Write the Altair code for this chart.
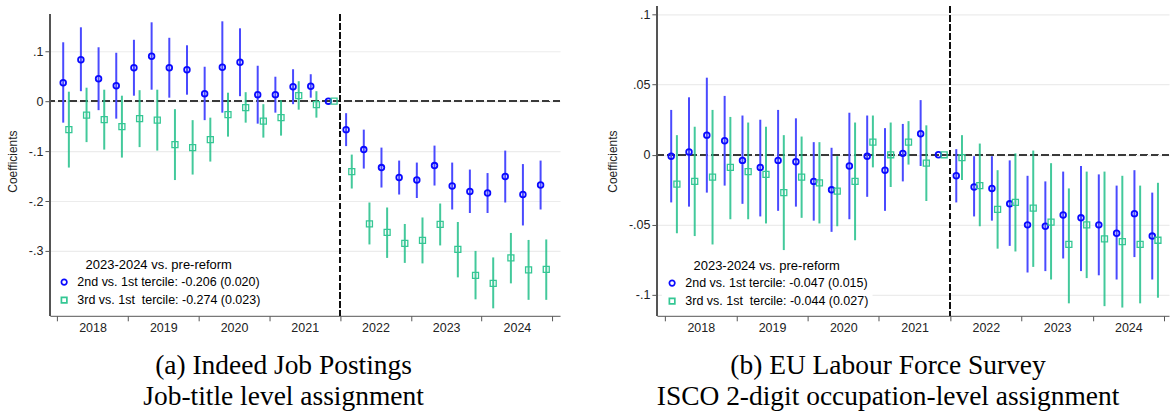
import altair as alt
import pandas as pd

# Quarterly event-study periods, 2018q1 .. 2024q4 (2021q4 is the omitted reference quarter)
years = [y for y in range(2018, 2025) for _ in range(4)]
quarters = [q for _ in range(2018, 2025) for q in range(1, 5)]

# (a) Indeed job postings, job-title level assignment
a_t2_est = [0.037, 0.083, 0.045, 0.031, 0.067, 0.090, 0.067, 0.063, 0.015, 0.068, 0.078, 0.013, 0.013, 0.029, 0.030, 0.0,
            -0.057, -0.097, -0.133, -0.153, -0.158, -0.129, -0.170, -0.181, -0.184, -0.151, -0.187, -0.168]
a_t2_lo = [-0.043, 0.020, -0.018, -0.035, 0.011, 0.023, 0.007, 0.013, -0.038, -0.023, 0.010, -0.045, -0.023, -0.006, 0.007, 0.0,
           -0.090, -0.135, -0.173, -0.187, -0.194, -0.169, -0.217, -0.224, -0.224, -0.203, -0.249, -0.217]
a_t2_hi = [0.118, 0.148, 0.108, 0.097, 0.123, 0.158, 0.127, 0.112, 0.069, 0.160, 0.146, 0.071, 0.049, 0.064, 0.054, 0.0,
           -0.024, -0.057, -0.093, -0.119, -0.123, -0.089, -0.123, -0.137, -0.144, -0.099, -0.126, -0.119]
a_t3_est = [-0.057, -0.028, -0.037, -0.051, -0.035, -0.038, -0.087, -0.093, -0.077, -0.027, -0.013, -0.040, -0.033, 0.011, -0.007, 0.0,
            -0.141, -0.246, -0.263, -0.285, -0.279, -0.247, -0.297, -0.349, -0.365, -0.314, -0.338, -0.337]
a_t3_lo = [-0.133, -0.082, -0.097, -0.113, -0.092, -0.099, -0.158, -0.147, -0.121, -0.071, -0.043, -0.073, -0.069, -0.017, -0.033, 0.0,
           -0.175, -0.287, -0.314, -0.324, -0.325, -0.289, -0.353, -0.397, -0.415, -0.365, -0.398, -0.398]
a_t3_hi = [0.019, 0.027, 0.023, 0.011, 0.022, 0.023, -0.016, -0.038, -0.033, 0.017, 0.018, -0.006, 0.002, 0.040, 0.020, 0.0,
           -0.107, -0.203, -0.213, -0.246, -0.233, -0.205, -0.242, -0.300, -0.313, -0.264, -0.278, -0.277]
a_labels = ["2nd vs. 1st tercile: -0.206 (0.020)", "3rd vs. 1st\u00a0 tercile: -0.274 (0.023)"]

# (b) EU Labour Force Survey, ISCO 2-digit occupation-level assignment
b_t2_est = [-0.001, 0.002, 0.014, 0.010, -0.004, -0.009, -0.004, -0.005, -0.019, -0.025, -0.008, -0.001, -0.011, 0.001, 0.015, 0.0,
            -0.015, -0.023, -0.024, -0.035, -0.050, -0.051, -0.043, -0.045, -0.050, -0.056, -0.042, -0.058]
b_t2_lo = [-0.034, -0.037, -0.027, -0.022, -0.035, -0.044, -0.040, -0.037, -0.047, -0.055, -0.046, -0.030, -0.040, -0.019, -0.008, 0.0,
           -0.034, -0.044, -0.047, -0.065, -0.084, -0.083, -0.074, -0.083, -0.086, -0.089, -0.073, -0.089]
b_t2_hi = [0.032, 0.041, 0.055, 0.042, 0.028, 0.025, 0.032, 0.026, 0.009, 0.005, 0.030, 0.028, 0.019, 0.022, 0.039, 0.0,
           0.004, -0.001, -0.001, -0.004, -0.015, -0.019, -0.012, -0.008, -0.014, -0.022, -0.011, -0.027]
b_t3_est = [-0.021, -0.019, -0.016, -0.009, -0.012, -0.014, -0.027, -0.016, -0.020, -0.026, -0.019, 0.009, 0.000, 0.009, -0.006, 0.0,
            -0.002, -0.022, -0.039, -0.034, -0.038, -0.048, -0.064, -0.050, -0.060, -0.062, -0.064, -0.061]
b_t3_lo = [-0.056, -0.058, -0.064, -0.046, -0.046, -0.049, -0.068, -0.045, -0.049, -0.051, -0.061, -0.009, -0.023, -0.007, -0.033, 0.0,
           -0.018, -0.051, -0.067, -0.069, -0.080, -0.089, -0.106, -0.088, -0.108, -0.109, -0.106, -0.102]
b_t3_hi = [0.014, 0.020, 0.032, 0.027, 0.023, 0.020, 0.014, 0.013, 0.009, -0.001, 0.023, 0.028, 0.023, 0.024, 0.021, 0.0,
           0.014, 0.008, -0.011, 0.001, 0.003, -0.006, -0.024, -0.012, -0.012, -0.015, -0.022, -0.020]
b_labels = ["2nd vs. 1st tercile: -0.047 (0.015)", "3rd vs. 1st\u00a0 tercile: -0.044 (0.027)"]

BLUE, BLUE_CI = "#0a0aff", "#4a4aff"
GREEN, GREEN_CI = "#34c794", "#22bf8a"
FONT = "Liberation Sans"
DODGE = 0.04  # horizontal offset (in years) between the two terciles


def frame(est2, lo2, hi2, est3, lo3, hi3, labels):
    rows = []
    for i, (y, q) in enumerate(zip(years, quarters)):
        t = y + (q - 0.5) / 4
        rows.append(dict(t=t - DODGE, est=est2[i], lo=lo2[i], hi=hi2[i], series=labels[0]))
        rows.append(dict(t=t + DODGE, est=est3[i], lo=lo3[i], hi=hi3[i], series=labels[1]))
    return pd.DataFrame(rows)


Y_LABEL = "datum.value == 0 ? '0' : (datum.value < 0 ? '-' : '') + replace(format(abs(datum.value), '~g'), '0.', '.')"


def panel(df, labels, x_dom, y_dom, y_ticks, width, height, axis_top, leg_x, leg_y, caption):
    year_px = width / (x_dom[1] - x_dom[0])
    x = alt.X("t:Q", scale=alt.Scale(domain=x_dom, nice=False, zero=False),
              axis=alt.Axis(values=list(range(2018, 2026)), title=None, grid=False,
                            labelExpr="datum.value < 2025 ? format(datum.value, 'd') : ''",
                            labelOffset=year_px / 2, tickSize=5, labelPadding=1,
                            domainColor="#555555", tickColor="#555555"))
    y_scale = alt.Scale(domain=y_dom, nice=False, zero=False)
    y = alt.Y("est:Q", scale=y_scale,
              axis=alt.Axis(values=y_ticks, labelExpr=Y_LABEL, title="Coefficients",
                            grid=True, gridColor="#ececec", gridWidth=1.2,
                            domain=False, tickSize=5, tickColor="#555555",
                            labelPadding=2, titlePadding=9))
    base = alt.Chart(df)

    yaxis_line = base.mark_rule(color="#555555", strokeWidth=1).encode(
        x=alt.value(0), y=alt.value(axis_top), y2=alt.value(height))
    zero = base.mark_rule(color="#3a3a3a", strokeWidth=1.3, strokeDash=[7, 4]).encode(y=alt.datum(0))
    reform = base.mark_rule(color="#111111", strokeWidth=1.1, strokeDash=[6, 3]).encode(
        x=alt.datum(2022), y=alt.value(axis_top), y2=alt.value(height))

    ci2 = base.transform_filter(alt.datum.series == labels[0]).mark_rule(
        color=BLUE_CI, strokeWidth=2).encode(x=x, y=alt.Y("lo:Q", scale=y_scale), y2="hi:Q")
    ci3 = base.transform_filter(alt.datum.series == labels[1]).mark_rule(
        color=GREEN_CI, strokeWidth=2, opacity=0.85).encode(x=x, y=alt.Y("lo:Q", scale=y_scale), y2="hi:Q")

    legend = alt.Legend(orient="none", legendX=leg_x, legendY=leg_y,
                        title="2023-2024 vs. pre-reform", titleAnchor="middle",
                        titleFont=FONT, titleFontSize=13, titleFontWeight="normal", titleColor="black",
                        titlePadding=4, labelFont=FONT, labelFontSize=12.5, labelColor="black",
                        labelLimit=400, labelOffset=7, rowPadding=5, padding=4,
                        fillColor="white", symbolSize=30, symbolStrokeWidth=1.7)
    color = alt.Color("series:N", scale=alt.Scale(domain=labels, range=[BLUE, GREEN]), legend=legend)
    shape = alt.Shape("series:N", scale=alt.Scale(domain=labels, range=["circle", "square"]), legend=legend)

    pts2 = base.transform_filter(alt.datum.series == labels[0]).mark_point(
        filled=False, size=32, strokeWidth=1.8, opacity=1).encode(x=x, y=y, color=color, shape=shape)
    pts3 = base.transform_filter(alt.datum.series == labels[1]).mark_point(
        filled=False, size=36, strokeWidth=1.3, opacity=1).encode(x=x, y=y, color=color, shape=shape)

    return alt.layer(zero, reform, ci2, ci3, pts2, pts3, yaxis_line).properties(
        width=width, height=height,
        title=alt.TitleParams(text=caption, orient="bottom", anchor="middle", frame="bounds",
                              font="Liberation Serif", fontSize=27.5, fontWeight="normal",
                              lineHeight=31, offset=18, color="black"))


left = panel(frame(a_t2_est, a_t2_lo, a_t2_hi, a_t3_est, a_t3_lo, a_t3_hi, a_labels), a_labels,
             [2017.897, 2025.11], [-0.43, 0.19], [-0.3, -0.2, -0.1, 0, 0.1], 511, 310, 8, 4, 249,
             ["(a) Indeed Job Postings", "Job-title level assignment"])
right = panel(frame(b_t2_est, b_t2_lo, b_t2_hi, b_t3_est, b_t3_lo, b_t3_hi, b_labels), b_labels,
              [2017.884, 2025.07], [-0.1149, 0.1059], [-0.1, -0.05, 0, 0.05, 0.1], 513, 310, 0, 5, 250,
              ["(b) EU Labour Force Survey", "ISCO 2-digit occupation-level assignment"])

chart = alt.hconcat(left, right, spacing=45).resolve_scale(
    color="independent", shape="independent").properties(
    padding={"left": 6, "right": 0, "top": 5, "bottom": 0}
).configure_view(stroke=None).configure_axis(
    labelFont=FONT, labelFontSize=12.5, labelColor="#222222",
    titleFont=FONT, titleFontSize=12, titleFontWeight="normal", titleColor="#222222")

chart.save("out.html", embed_options={"renderer": "svg", "actions": False})
